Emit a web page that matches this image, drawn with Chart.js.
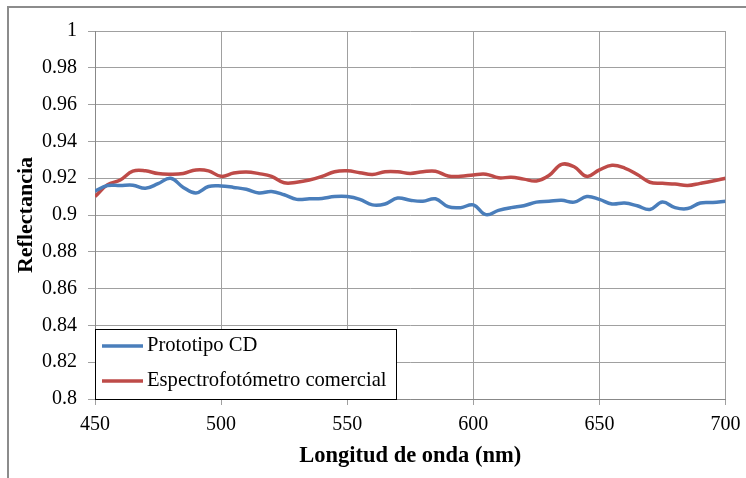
<!DOCTYPE html>
<html>
<head>
<meta charset="utf-8">
<script src="https://cdn.jsdelivr.net/npm/chart.js@4"></script>
<style>
  body { margin: 0; background: #fff; overflow: hidden; }
  #wrap { position: relative; width: 746px; height: 478px; }
  #frame { position: absolute; left: 7px; top: 6px; width: 800px; height: 600px; border: 2px solid #8c8c8c; }
  canvas { position: absolute; left: 0; top: 0; }
</style>
</head>
<body>
<div id="wrap">
  <div id="frame"></div>
  <canvas id="reflectanceChart" width="746" height="478"></canvas>
</div>
<script>
// wavelength samples (nm)
const wavelengths = [450, 455, 460, 465, 470, 475, 480, 485, 490, 495,
  500, 505, 510, 515, 520, 525, 530, 535, 540, 545,
  550, 555, 560, 565, 570, 575, 580, 585, 590, 595,
  600, 605, 610, 615, 620, 625, 630, 635, 640, 645,
  650, 655, 660, 665, 670, 675, 680, 685, 690, 695, 700];

const prototipoCD = [0.913, 0.916, 0.916, 0.9162, 0.9145, 0.917, 0.920, 0.915, 0.912, 0.9155,
  0.9158, 0.915, 0.914, 0.912, 0.9128, 0.911, 0.9085, 0.9088, 0.909, 0.910,
  0.910, 0.9085, 0.9055, 0.906, 0.9092, 0.908, 0.9075, 0.9088, 0.9045, 0.904,
  0.9055, 0.9002, 0.9025, 0.904, 0.905, 0.907, 0.9075, 0.908, 0.907, 0.910,
  0.9085, 0.906, 0.9065, 0.905, 0.903, 0.907, 0.904, 0.9035, 0.9065, 0.9068, 0.9075];

const espectrofotometro = [0.910, 0.9165, 0.919, 0.9238, 0.924, 0.9225, 0.9222, 0.9226, 0.9245, 0.924,
  0.921, 0.9228, 0.9234, 0.9225, 0.921, 0.9175, 0.9178, 0.919, 0.921, 0.9235,
  0.924, 0.923, 0.922, 0.9235, 0.9235, 0.9226, 0.9235, 0.9238, 0.9212, 0.921,
  0.9218, 0.9222, 0.9202, 0.9205, 0.9195, 0.9185, 0.9215, 0.9275, 0.9262, 0.921,
  0.9245, 0.927, 0.9255, 0.922, 0.9178, 0.9172, 0.9168, 0.916, 0.9172, 0.9185, 0.920];

const seriesNames = ['Prototipo CD', 'Espectrofotómetro comercial'];
const seriesColors = ['#4a7ebb', '#be4b48'];

const serif = "'Liberation Serif', 'Times New Roman', serif";

const toPoints = values => wavelengths.map((w, i) => ({ x: w, y: values[i] }));

// boxed legend sitting in the lower-left corner of the plot
const boxLegend = {
  id: 'boxLegend',
  afterDraw(chart) {
    const { ctx, chartArea } = chart;
    const w = 301, h = 70;
    const left = chartArea.left, top = chartArea.bottom - h;
    ctx.save();
    ctx.fillStyle = '#fff';
    ctx.fillRect(left, top, w, h);
    ctx.strokeStyle = '#000';
    ctx.lineWidth = 1;
    ctx.strokeRect(left + 0.5, top + 0.5, w, h);
    ctx.font = '20.6px ' + serif;
    ctx.textBaseline = 'middle';
    chart.data.datasets.forEach((ds, i) => {
      const y = top + 17 + i * 35;
      ctx.strokeStyle = ds.borderColor;
      ctx.lineWidth = 3.5;
      ctx.beginPath();
      ctx.moveTo(left + 7, y);
      ctx.lineTo(left + 48, y);
      ctx.stroke();
      ctx.fillStyle = '#000';
      ctx.fillText(ds.label, left + 52, y);
    });
    ctx.restore();
  }
};

new Chart(document.getElementById('reflectanceChart').getContext('2d'), {
  type: 'line',
  data: {
    datasets: [
      {
        label: seriesNames[0],
        data: toPoints(prototipoCD),
        borderColor: seriesColors[0],
        borderWidth: 3.5,
        pointRadius: 0,
        tension: 0.4,
        fill: false,
      },
      {
        label: seriesNames[1],
        data: toPoints(espectrofotometro),
        borderColor: seriesColors[1],
        borderWidth: 3.5,
        pointRadius: 0,
        tension: 0.4,
        fill: false,
      },
    ],
  },
  options: {
    responsive: false,
    animation: false,
    layout: { padding: { top: 31, right: 20.5, left: 0, bottom: 0 } },
    plugins: {
      legend: { display: false },
      tooltip: { enabled: false },
    },
    scales: {
      x: {
        type: 'linear',
        min: 450,
        max: 700,
        afterFit: scale => {
          scale.height = 79;
          scale.paddingLeft = 0;
          scale.paddingRight = 0;
        },
        ticks: {
          stepSize: 50,
          color: '#000',
          font: { family: serif, size: 20 },
          padding: 8,
          maxRotation: 0,
        },
        grid: { color: '#a0a0a0', tickLength: 6 },
        border: { color: '#888' },
        title: {
          display: true,
          text: 'Longitud de onda (nm)',
          color: '#000',
          font: { family: serif, size: 22.5, weight: 'bold' },
          padding: { top: 0, bottom: 8 },
        },
      },
      y: {
        min: 0.8,
        max: 1,
        afterFit: scale => { scale.width = 95; },
        ticks: {
          stepSize: 0.02,
          color: '#000',
          font: { family: serif, size: 20 },
          padding: 11,
          callback: v => String(parseFloat(v.toFixed(2))),
        },
        grid: { color: '#a0a0a0', tickLength: 7 },
        border: { color: '#888' },
        title: {
          display: true,
          text: 'Reflectancia',
          color: '#000',
          font: { family: serif, size: 22, weight: 'bold' },
          padding: { top: 13, bottom: 0 },
        },
      },
    },
  },
  plugins: [boxLegend],
});
</script>
</body>
</html>
